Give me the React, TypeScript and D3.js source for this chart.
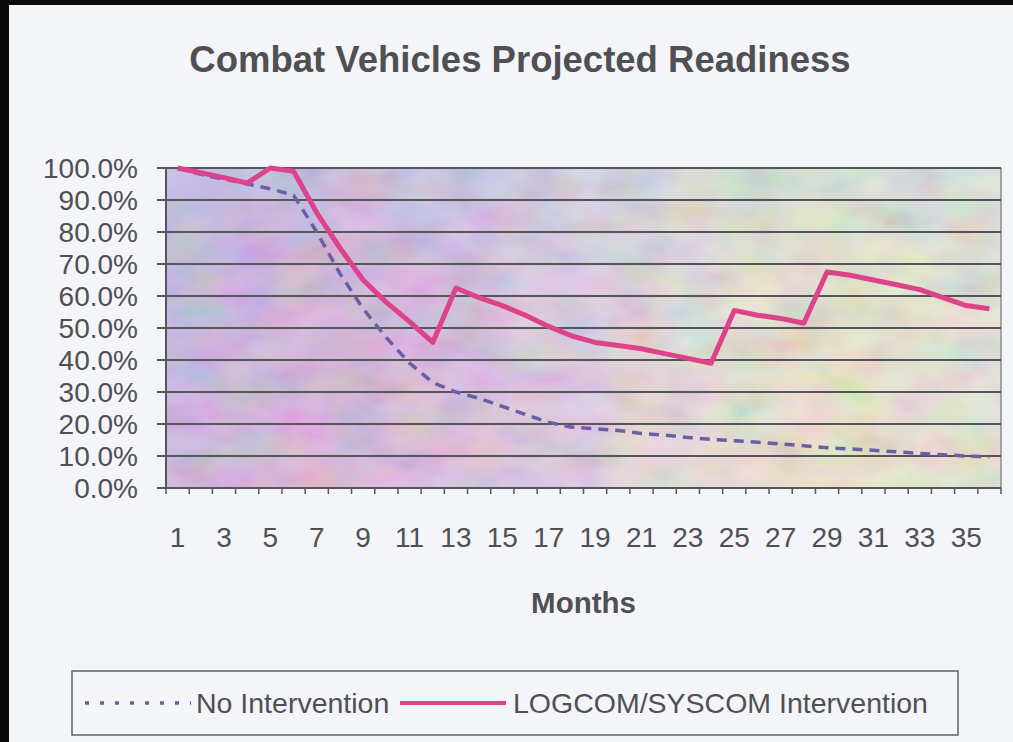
import React, { useEffect, useRef } from 'react';
import * as d3 from 'd3';

const months = [1, 2, 3, 4, 5, 6, 7, 8, 9, 10, 11, 12, 13, 14, 15, 16, 17, 18,
  19, 20, 21, 22, 23, 24, 25, 26, 27, 28, 29, 30, 31, 32, 33, 34, 35, 36];

const monthLabels = ['1', '3', '5', '7', '9', '11', '13', '15', '17', '19', '21',
  '23', '25', '27', '29', '31', '33', '35'];

const yTicks = [0, 10, 20, 30, 40, 50, 60, 70, 80, 90, 100];

// readiness in percent
const noIntervention = [100, 98, 96.5, 95, 93.5, 91.5, 80, 67, 56, 47, 39, 33,
  30, 28, 25.5, 23, 20.5, 19, 18.5, 18, 17, 16.5, 15.8, 15.2, 14.8, 14.3, 13.8,
  13.2, 12.6, 12.2, 11.8, 11.3, 10.8, 10.4, 10, 9.8];

const intervention = [100, 98.5, 97, 95.3, 100, 99, 86, 75, 65, 58, 52, 45.5,
  62.5, 59.5, 57, 54, 50.5, 47.5, 45.5, 44.5, 43.5, 42, 40.5, 39, 55.5, 54, 53,
  51.5, 67.5, 66.5, 65, 63.5, 62, 59.5, 57, 56];

const seriesNames = ['No Intervention', 'LOGCOM/SYSCOM Intervention'];

const App = () => {
  const container = useRef(null);

  const width = 1013;
  const height = 742;

  const margins = {
    l: 166,
    t: 168,
    r: 12,
    b: 254
  };

  const plotwidth = width - margins.l - margins.r;
  const plotheight = height - margins.t - margins.b;

  const font = '"Liberation Sans", Arial, sans-serif';
  const textcolor = '#505054';
  const pink = '#de4288';
  const purple = '#6a5ea6';

  useEffect(() => {
    createChart();
  }, []);

  const createChart = () => {
    const svg = d3.select(container.current);

    // scanned-looking pastel plot fill
    const defs = svg.selectAll('defs').data([0]).join('defs');
    const grad = defs
      .selectAll('#plotfill')
      .data([0])
      .join('linearGradient')
      .attr('id', 'plotfill')
      .attr('x1', '0%')
      .attr('x2', '100%')
      .attr('y1', '0%')
      .attr('y2', '0%');
    grad
      .selectAll('stop')
      .data([
        ['0%', '#c6b4e0'],
        ['18%', '#d6aed8'],
        ['35%', '#d9bade'],
        ['50%', '#e2d2e0'],
        ['64%', '#ebe8d0'],
        ['80%', '#eff0c2'],
        ['100%', '#edf0d4']
      ])
      .join('stop')
      .attr('offset', d => d[0])
      .attr('stop-color', d => d[1]);

    const vgrad = defs
      .selectAll('#plotshade')
      .data([0])
      .join('linearGradient')
      .attr('id', 'plotshade')
      .attr('x1', '0%')
      .attr('x2', '0%')
      .attr('y1', '0%')
      .attr('y2', '100%');
    vgrad
      .selectAll('stop')
      .data([
        ['0%', '#a9cbec', 0.35],
        ['40%', '#c0a8e0', 0.15],
        ['100%', '#f0b8d6', 0.25]
      ])
      .join('stop')
      .attr('offset', d => d[0])
      .attr('stop-color', d => d[1])
      .attr('stop-opacity', d => d[2]);

    // blotchy scan texture
    const noise = defs
      .selectAll('#scan')
      .data([0])
      .join('filter')
      .attr('id', 'scan')
      .attr('x', 0)
      .attr('y', 0)
      .attr('width', '100%')
      .attr('height', '100%');
    noise
      .selectAll('feTurbulence')
      .data([0])
      .join('feTurbulence')
      .attr('type', 'fractalNoise')
      .attr('baseFrequency', '0.018 0.03')
      .attr('numOctaves', 3)
      .attr('seed', 4);
    noise
      .selectAll('feColorMatrix')
      .data([0])
      .join('feColorMatrix')
      .attr('type', 'matrix')
      .attr('values', '1.4 0 0 0 -0.1  0 1.3 0 0 -0.05  0 0 1.5 0 -0.1  0 0 0 0 0.22');

    svg
      .selectAll('.bg')
      .data([0])
      .join('rect')
      .attr('class', 'bg')
      .attr('width', width)
      .attr('height', height)
      .style('fill', '#f3f5f8');

    // black frame edges from the scan
    svg
      .selectAll('.frame-left')
      .data([0])
      .join('rect')
      .attr('class', 'frame-left')
      .attr('width', 9)
      .attr('height', height)
      .style('fill', '#0a0a0a');
    svg
      .selectAll('.frame-top')
      .data([0])
      .join('rect')
      .attr('class', 'frame-top')
      .attr('width', width)
      .attr('height', 5)
      .style('fill', '#0a0a0a');

    const xScale = d3
      .scaleBand()
      .domain(months)
      .range([0, plotwidth]);
    const xc = m => xScale(m) + xScale.bandwidth() / 2;

    const yScale = d3
      .scaleLinear()
      .domain([0, 100])
      .range([plotheight, 0]);

    const plotg = svg
      .selectAll('.plotg')
      .data([0])
      .join('g')
      .attr('class', 'plotg')
      .attr('transform', `translate(${margins.l},${margins.t})`);

    plotg
      .selectAll('.plotfill')
      .data(['url(#plotfill)', 'url(#plotshade)'])
      .join('rect')
      .attr('class', 'plotfill')
      .attr('width', plotwidth)
      .attr('height', plotheight)
      .style('fill', d => d);

    plotg
      .selectAll('.plotnoise')
      .data([0])
      .join('rect')
      .attr('class', 'plotnoise')
      .attr('width', plotwidth)
      .attr('height', plotheight)
      .attr('filter', 'url(#scan)');

    plotg
      .selectAll('.rborder')
      .data([0])
      .join('line')
      .attr('class', 'rborder')
      .attr('x1', plotwidth)
      .attr('x2', plotwidth)
      .attr('y1', 0)
      .attr('y2', plotheight)
      .style('stroke', '#8a8a90')
      .style('stroke-width', 1.5);

    /* GRID + Y AXIS */
    plotg
      .selectAll('.grid')
      .data(yTicks)
      .join('line')
      .attr('class', 'grid')
      .attr('x1', -9)
      .attr('x2', plotwidth)
      .attr('y1', d => yScale(d))
      .attr('y2', d => yScale(d))
      .style('stroke', '#55555c')
      .style('stroke-width', 2.2);

    plotg
      .selectAll('.yaxisline')
      .data([0])
      .join('line')
      .attr('class', 'yaxisline')
      .attr('x1', 0)
      .attr('x2', 0)
      .attr('y1', 0)
      .attr('y2', plotheight)
      .style('stroke', '#55555c')
      .style('stroke-width', 2);

    plotg
      .selectAll('.ylabel')
      .data(yTicks)
      .join('text')
      .attr('class', 'ylabel')
      .attr('x', -28)
      .attr('y', d => yScale(d))
      .attr('dy', '0.36em')
      .attr('text-anchor', 'end')
      .style('font-family', font)
      .style('font-size', '28px')
      .style('fill', textcolor)
      .text(d => d3.format('.1f')(d) + '%');

    /* X AXIS */
    const boundaries = months.map(m => xScale(m)).concat([plotwidth]);
    plotg
      .selectAll('.xtick')
      .data(boundaries)
      .join('line')
      .attr('class', 'xtick')
      .attr('x1', d => d)
      .attr('x2', d => d)
      .attr('y1', plotheight)
      .attr('y2', plotheight + 6)
      .style('stroke', '#55555c')
      .style('stroke-width', 1.5);

    plotg
      .selectAll('.xlabel')
      .data(monthLabels)
      .join('text')
      .attr('class', 'xlabel')
      .attr('x', d => xc(+d))
      .attr('y', plotheight + 59)
      .attr('text-anchor', 'middle')
      .style('font-family', font)
      .style('font-size', '28px')
      .style('fill', textcolor)
      .text(d => d);

    /* LINES */
    const line = d3
      .line()
      .x((d, i) => xc(months[i]))
      .y(d => yScale(d));

    plotg
      .selectAll('.series-noint')
      .data([noIntervention])
      .join('path')
      .attr('class', 'series-noint')
      .attr('d', line)
      .style('fill', 'none')
      .style('stroke', purple)
      .style('stroke-width', 3.5)
      .style('stroke-dasharray', '10,7');

    plotg
      .selectAll('.series-int')
      .data([intervention])
      .join('path')
      .attr('class', 'series-int')
      .attr('d', line)
      .style('fill', 'none')
      .style('stroke', pink)
      .style('stroke-width', 5)
      .style('stroke-linejoin', 'round');

    /* LABELS AND TITLES */
    svg
      .selectAll('.title-text')
      .data([0])
      .join('text')
      .attr('class', 'title-text')
      .attr('x', 520)
      .attr('y', 72)
      .attr('text-anchor', 'middle')
      .style('font-family', font)
      .style('font-size', '36.5px')
      .style('font-weight', 'bold')
      .style('fill', textcolor)
      .text('Combat Vehicles Projected Readiness');

    svg
      .selectAll('.x-axis-text')
      .data([0])
      .join('text')
      .attr('class', 'x-axis-text')
      .attr('x', margins.l + plotwidth / 2)
      .attr('y', 613)
      .attr('text-anchor', 'middle')
      .style('font-family', font)
      .style('font-size', '29.5px')
      .style('font-weight', 'bold')
      .style('fill', textcolor)
      .text('Months');

    /* LEGEND */
    const legendg = svg
      .selectAll('.legendg')
      .data([0])
      .join('g')
      .attr('class', 'legendg');

    legendg
      .selectAll('.legend-box')
      .data([0])
      .join('rect')
      .attr('class', 'legend-box')
      .attr('x', 72)
      .attr('y', 671)
      .attr('width', 886)
      .attr('height', 64)
      .style('fill', 'none')
      .style('stroke', '#606066')
      .style('stroke-width', 1.5);

    const items = [
      { x: 85, tx: 196, color: purple, dash: '4,11', w: 3.5 },
      { x: 400, tx: 513, color: pink, dash: null, w: 4 }
    ];

    legendg
      .selectAll('.legend-line')
      .data(items)
      .join('line')
      .attr('class', 'legend-line')
      .attr('x1', d => d.x)
      .attr('x2', d => d.x + 106)
      .attr('y1', 703)
      .attr('y2', 703)
      .style('stroke', d => d.color)
      .style('stroke-width', d => d.w)
      .style('stroke-dasharray', d => d.dash);

    legendg
      .selectAll('.legend-text')
      .data(items)
      .join('text')
      .attr('class', 'legend-text')
      .attr('x', d => d.tx)
      .attr('y', 713)
      .style('font-family', font)
      .style('font-size', '28.5px')
      .style('fill', textcolor)
      .text((d, i) => seriesNames[i]);
  };

  return (
    <svg
      ref={container}
      width={width}
      height={height}
      style={{ position: 'absolute', left: 0, top: 0, display: 'block' }}
    ></svg>
  );
};

export default App;
